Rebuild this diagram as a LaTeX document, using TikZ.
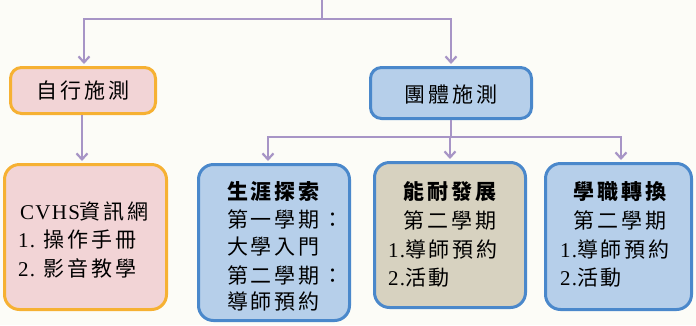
\documentclass[tikz,border=0pt]{standalone}
\usepackage{fontspec}
\setmainfont{Liberation Serif}
\newfontfamily\cjk[LetterSpace=13]{Noto Sans CJK TC}
\newfontfamily\lat[LetterSpace=6]{Liberation Serif}
\usetikzlibrary{arrows.meta,calc}
\definecolor{bgc}{HTML}{FCFCF7}
\definecolor{pinkfill}{HTML}{F2D4D6}
\definecolor{orangeline}{HTML}{F6B133}
\definecolor{bluefill}{HTML}{B6CFEA}
\definecolor{blueline}{HTML}{4A88CB}
\definecolor{tanfill}{HTML}{D7D2C0}
\definecolor{purp}{HTML}{A795C6}
\tikzset{
  box/.style={draw, line width=3pt, rounded corners=11pt, inner sep=0pt},
  pinkbox/.style={box, fill=pinkfill, draw=orangeline},
  bluebox/.style={box, fill=bluefill, draw=blueline},
  tanbox/.style={box, fill=tanfill, draw=blueline},
  conn/.style={draw=purp, line width=2.4pt},
  arr/.style={conn, -{Straight Barb[length=6pt,width=11pt,line width=2.2pt]}, shorten >=2pt},
  txt/.style={inner sep=0pt, font=\fontsize{21}{24}\cjk},
  hd/.style={inner sep=0pt, font=\fontsize{21}{24}\cjk\bfseries},
}
\begin{document}
\begin{tikzpicture}[x=1pt,y=-1pt]
\fill[bgc] (0,0) rectangle (696,325);
\useasboundingbox (0,0) rectangle (696,325);
% boxes
\node[pinkbox, minimum width=145pt, minimum height=46pt] (A) at (83,90.5) {};
\node[bluebox, minimum width=161pt, minimum height=51pt] (B) at (451,93) {};
\node[pinkbox, rounded corners=15pt, minimum width=162pt, minimum height=145pt] (C) at (85.5,237) {};
\node[bluebox, rounded corners=15pt, minimum width=151pt, minimum height=156pt] (D) at (274,242.5) {};
\node[tanbox, rounded corners=15pt, minimum width=151pt, minimum height=145pt] (E) at (450,235) {};
\node[bluebox, rounded corners=15pt, minimum width=146pt, minimum height=146pt] (F) at (618.5,236.5) {};
% connectors
\coordinate (top) at (322,0);
\coordinate (j1) at (322,19);
\coordinate (j2) at (451,137);
\draw[conn] (top) -- (j1);
\draw[arr] (j1) -| ([xshift=1pt]A.north);
\draw[arr] (j1) -| (B.north);
\draw[arr] ([xshift=-1pt]A.south) -- ([xshift=-1pt]A.south |- C.north);
\draw[conn] (B.south) -- (j2);
\draw[arr] (j2) -| ([xshift=-6pt]D.north);
\draw[arr] (j2) -| (E.north);
\draw[arr] (j2) -| ([xshift=2.5pt]F.north);
% texts
\node[txt] (tA) at (83,91) {自行施測};
\node[txt] (tB) at (451,95) {團體施測};
\node[txt, anchor=west] (c1) at (20,211) {{\lat CVHS}資訊網};
\node[txt, anchor=west] (c2) at (18,240) {{\lat 1. }操作手冊};
\node[txt, anchor=west] (c3) at (18,268) {{\lat 2. }影音教學};
\node[hd, anchor=west] (d0) at (227,192) {生涯探索};
\node[txt, anchor=west] (d1) at (227,219) {第一學期：};
\node[txt, anchor=west] (d2) at (227,247) {大學入門};
\node[txt, anchor=west] (d3) at (227,275) {第二學期：};
\node[txt, anchor=west] (d4) at (227,302) {導師預約};
\node[hd] (e0) at (450,192) {能耐發展};
\node[txt] (e1) at (450,220) {第二學期};
\node[txt, anchor=west] (e2) at (388,250) {{\lat 1.}導師預約};
\node[txt, anchor=west] (e3) at (388,278) {{\lat 2.}活動};
\node[hd] (f0) at (620,192) {學職轉換};
\node[txt] (f1) at (620,220) {第二學期};
\node[txt, anchor=west] (f2) at (560,250) {{\lat 1.}導師預約};
\node[txt, anchor=west] (f3) at (560,278) {{\lat 2.}活動};
\end{tikzpicture}
\end{document}
